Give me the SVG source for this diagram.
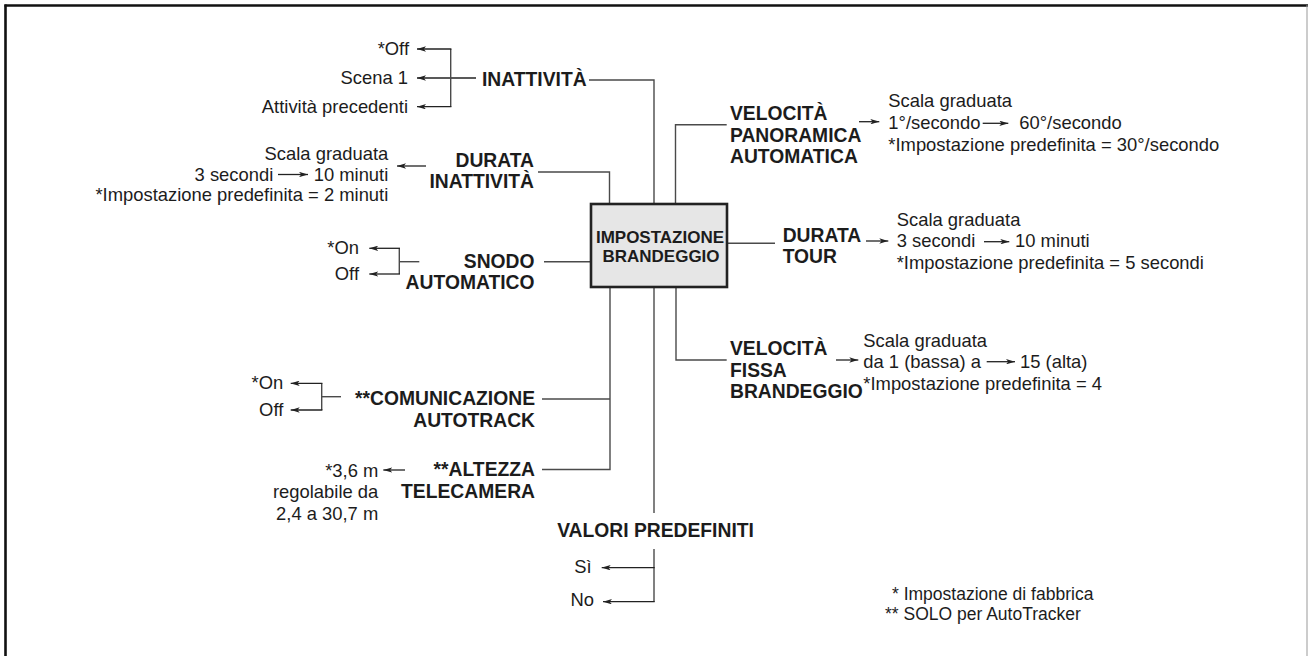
<svg xmlns="http://www.w3.org/2000/svg" width="1310" height="656" viewBox="0 0 1310 656">
  <style>
    text { font-family: "Liberation Sans", Arial, sans-serif; fill: #1c1c1c; }
    .lbl { font-size: 19.3px; font-weight: bold; }
    .opt { font-size: 18.4px; }
    .end { text-anchor: end; }
    .mid { text-anchor: middle; }
    .box-t { font-size: 17px; font-weight: bold; text-anchor: middle; }
    .note { font-size: 17.5px; }
    .link { fill: none; stroke: #4a4a4a; stroke-width: 1.4; }
    .arr { fill: none; stroke: #222; stroke-width: 1.3; marker-end: url(#ah); }
  </style>
  <defs>
    <marker id="ah" viewBox="0 0 10 6" refX="10" refY="3" markerWidth="9" markerHeight="5.5" orient="auto" markerUnits="userSpaceOnUse">
      <path d="M0,0 L10,3 L0,6 L2.5,3 Z" fill="#222"/>
    </marker>
  </defs>

  <rect width="1310" height="656" fill="#fff"/>

  <!-- page frame: heavy top and left rules, light right rule -->
  <g id="frame">
    <line x1="4.5" y1="5.5" x2="1308" y2="5.5" stroke="#111" stroke-width="2.6"/>
    <line x1="5.5" y1="4.5" x2="5.5" y2="656" stroke="#111" stroke-width="2.6"/>
    <line x1="1307" y1="5" x2="1307" y2="656" stroke="#999" stroke-width="1"/>
  </g>

  <!-- connectors -->
  <g id="connectors">
    <!-- INATTIVITÀ -->
    <polyline class="link" points="589,80 654,80 654,204"/>
    <line class="arr" x1="476" y1="78" x2="417" y2="78"/>
    <polyline class="link" points="450.7,49 450.7,106.7" />
    <line class="arr" x1="451.4" y1="49" x2="417" y2="49"/>
    <line class="arr" x1="451.4" y1="106.7" x2="417" y2="106.7"/>

    <!-- DURATA INATTIVITÀ -->
    <polyline class="link" points="538,172 609.5,172 609.5,204"/>
    <line class="arr" x1="426" y1="166" x2="397" y2="166"/>
    <line class="arr" x1="278" y1="174.5" x2="308" y2="174.5"/>

    <!-- SNODO AUTOMATICO -->
    <line class="link" x1="544" y1="261.7" x2="591" y2="261.7"/>
    <line class="link" x1="419.3" y1="261.7" x2="399.3" y2="261.7"/>
    <polyline class="link" points="399.3,248.3 399.3,274"/>
    <line class="arr" x1="400" y1="248.3" x2="369.3" y2="248.3"/>
    <line class="arr" x1="400" y1="274" x2="369.3" y2="274"/>

    <!-- left trunk: COMUNICAZIONE AUTOTRACK and ALTEZZA TELECAMERA -->
    <polyline class="link" points="542,399 610,399"/>
    <polyline class="link" points="542,469.5 610,469.5 610,287"/>
    <line class="link" x1="341" y1="396.7" x2="321.7" y2="396.7"/>
    <polyline class="link" points="321.7,383.3 321.7,410"/>
    <line class="arr" x1="322.4" y1="383.3" x2="290.7" y2="383.3"/>
    <line class="arr" x1="322.4" y1="410" x2="290.7" y2="410"/>
    <line class="arr" x1="405" y1="470" x2="383.3" y2="470"/>

    <!-- VALORI PREDEFINITI -->
    <line class="link" x1="654" y1="287" x2="654" y2="513"/>
    <polyline class="link" points="654,549 654,601.7"/>
    <line class="arr" x1="654.7" y1="567.7" x2="601.7" y2="567.7"/>
    <line class="arr" x1="654.7" y1="601.7" x2="603" y2="601.7"/>

    <!-- VELOCITÀ PANORAMICA AUTOMATICA -->
    <polyline class="link" points="726.7,124.7 675.5,124.7 675.5,204"/>
    <line class="arr" x1="859" y1="121.7" x2="879.3" y2="121.7"/>
    <line class="arr" x1="982.7" y1="123.3" x2="1008.3" y2="123.3"/>

    <!-- DURATA TOUR -->
    <line class="link" x1="727" y1="243.3" x2="775" y2="243.3"/>
    <line class="arr" x1="866" y1="241" x2="888.3" y2="241"/>
    <line class="arr" x1="984" y1="241.7" x2="1009.3" y2="241.7"/>

    <!-- VELOCITÀ FISSA BRANDEGGIO -->
    <polyline class="link" points="676,287 676,360 726.7,360"/>
    <line class="arr" x1="836" y1="360" x2="858.3" y2="360"/>
    <line class="arr" x1="986.7" y1="361.7" x2="1015" y2="361.7"/>
  </g>

  <!-- central node -->
  <g id="impostazione-brandeggio">
    <rect x="591" y="204" width="136" height="83" fill="#e6e6e6" stroke="#222" stroke-width="2.6"/>
    <text class="box-t" x="660" y="243">IMPOSTAZIONE</text>
    <text class="box-t" x="661" y="262">BRANDEGGIO</text>
  </g>

  <g id="inattivita">
    <text class="lbl" x="482" y="85.5">INATTIVITÀ</text>
    <text class="opt end" x="409" y="55">*Off</text>
    <text class="opt end" x="408" y="84">Scena 1</text>
    <text class="opt end" x="408" y="112.5">Attività precedenti</text>
  </g>

  <g id="durata-inattivita">
    <text class="lbl end" x="534" y="166.5">DURATA</text>
    <text class="lbl end" x="534" y="188">INATTIVITÀ</text>
    <text class="opt end" x="388.3" y="160">Scala graduata</text>
    <text class="opt end" x="273.3" y="180.5">3 secondi</text>
    <text class="opt end" x="388.3" y="180.5">10 minuti</text>
    <text class="opt end" x="388.3" y="201">*Impostazione predefinita = 2 minuti</text>
  </g>

  <g id="snodo-automatico">
    <text class="lbl end" x="534.5" y="267.7">SNODO</text>
    <text class="lbl end" x="534.5" y="289.3">AUTOMATICO</text>
    <text class="opt end" x="359" y="253.5">*On</text>
    <text class="opt end" x="359" y="280">Off</text>
  </g>

  <g id="comunicazione-autotrack">
    <text class="lbl end" x="535" y="405">**COMUNICAZIONE</text>
    <text class="lbl end" x="535" y="427">AUTOTRACK</text>
    <text class="opt end" x="283.3" y="388.5">*On</text>
    <text class="opt end" x="283.3" y="416">Off</text>
  </g>

  <g id="altezza-telecamera">
    <text class="lbl end" x="535" y="476">**ALTEZZA</text>
    <text class="lbl end" x="535" y="498">TELECAMERA</text>
    <text class="opt end" x="378.3" y="476.5">*3,6 m</text>
    <text class="opt end" x="378.3" y="498">regolabile da</text>
    <text class="opt end" x="378.3" y="519.5">2,4 a 30,7 m</text>
  </g>

  <g id="valori-predefiniti">
    <text class="lbl mid" x="655.5" y="537">VALORI PREDEFINITI</text>
    <text class="opt end" x="591.7" y="573.3">Sì</text>
    <text class="opt end" x="594" y="606">No</text>
  </g>

  <g id="velocita-panoramica">
    <text class="lbl" x="730" y="120">VELOCITÀ</text>
    <text class="lbl" x="730" y="141.5">PANORAMICA</text>
    <text class="lbl" x="730" y="163">AUTOMATICA</text>
    <text class="opt" x="888.3" y="107.3">Scala graduata</text>
    <text class="opt" x="888.3" y="129">1°/secondo</text>
    <text class="opt" x="1019.3" y="129">60°/secondo</text>
    <text class="opt" x="888.3" y="150.5">*Impostazione predefinita = 30°/secondo</text>
  </g>

  <g id="durata-tour">
    <text class="lbl" x="782.7" y="241.7">DURATA</text>
    <text class="lbl" x="782.7" y="263.3">TOUR</text>
    <text class="opt" x="896.7" y="225.5">Scala graduata</text>
    <text class="opt" x="896.7" y="247">3 secondi</text>
    <text class="opt" x="1015" y="247">10 minuti</text>
    <text class="opt" x="896.7" y="269">*Impostazione predefinita = 5 secondi</text>
  </g>

  <g id="velocita-fissa">
    <text class="lbl" x="730" y="355">VELOCITÀ</text>
    <text class="lbl" x="730" y="376.5">FISSA</text>
    <text class="lbl" x="730" y="398">BRANDEGGIO</text>
    <text class="opt" x="863.3" y="346.7">Scala graduata</text>
    <text class="opt" x="863.3" y="368">da 1 (bassa) a</text>
    <text class="opt" x="1020" y="368">15 (alta)</text>
    <text class="opt" x="863.3" y="390">*Impostazione predefinita = 4</text>
  </g>

  <g id="legenda">
    <text class="note" x="892" y="600">* Impostazione di fabbrica</text>
    <text class="note" x="885" y="620">** SOLO per AutoTracker</text>
  </g>
</svg>
